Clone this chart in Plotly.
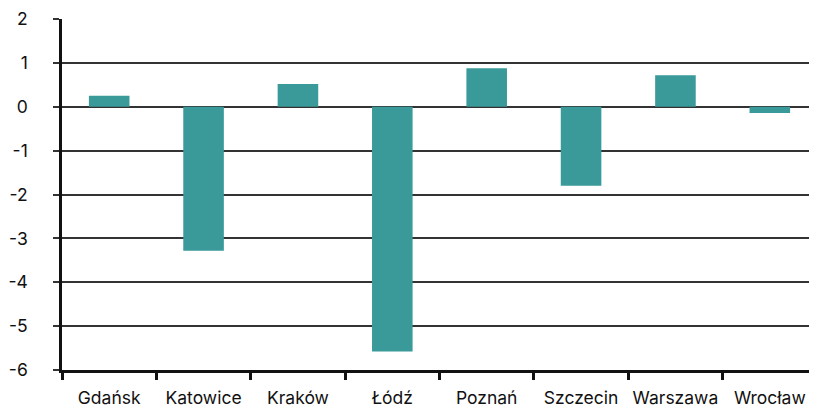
import plotly.graph_objects as go

cities = ["Gdańsk", "Katowice", "Kraków", "Łódź", "Poznań", "Szczecin", "Warszawa", "Wrocław"]
values = [0.25, -3.28, 0.52, -5.58, 0.88, -1.8, 0.72, -0.14]
y_ticks = [-6, -5, -4, -3, -2, -1, 0, 1, 2]
y_labels = [str(v) for v in y_ticks]  # plain hyphen minus, as in the original

fig = go.Figure(go.Bar(
    x=cities,
    y=values,
    marker=dict(color="#3a9a9a", line=dict(width=0)),
))

# page body has an 8px margin, so the figure is a bit smaller than the window
fig.update_layout(
    width=809, height=402,
    margin=dict(l=54, r=0, t=11, b=40),
    plot_bgcolor="white", paper_bgcolor="white",
    bargap=0.57,
    showlegend=False,
    font=dict(family="Inter, Noto Sans, sans-serif", color="#111", size=16),
)
fig.update_xaxes(
    automargin=False, tickangle=0,
    showline=True, linecolor="#111", linewidth=2.5,
    ticks="outside", tickson="boundaries", ticklen=7, tickwidth=2.5, tickcolor="#111",
    showgrid=False, tickfont=dict(size=17.5), ticklabelstandoff=10,
)
fig.update_yaxes(
    automargin=False,
    range=[-6, 2], tickvals=y_ticks, ticktext=y_labels,
    showline=True, linecolor="#111", linewidth=2.5,
    ticks="outside", ticklen=6, tickwidth=1.5, tickcolor="#333",
    showgrid=True, gridcolor="#333", gridwidth=1.5,
    zeroline=False, tickfont=dict(size=17.5), ticklabelstandoff=22,
)

fig.write_html("out.html")
